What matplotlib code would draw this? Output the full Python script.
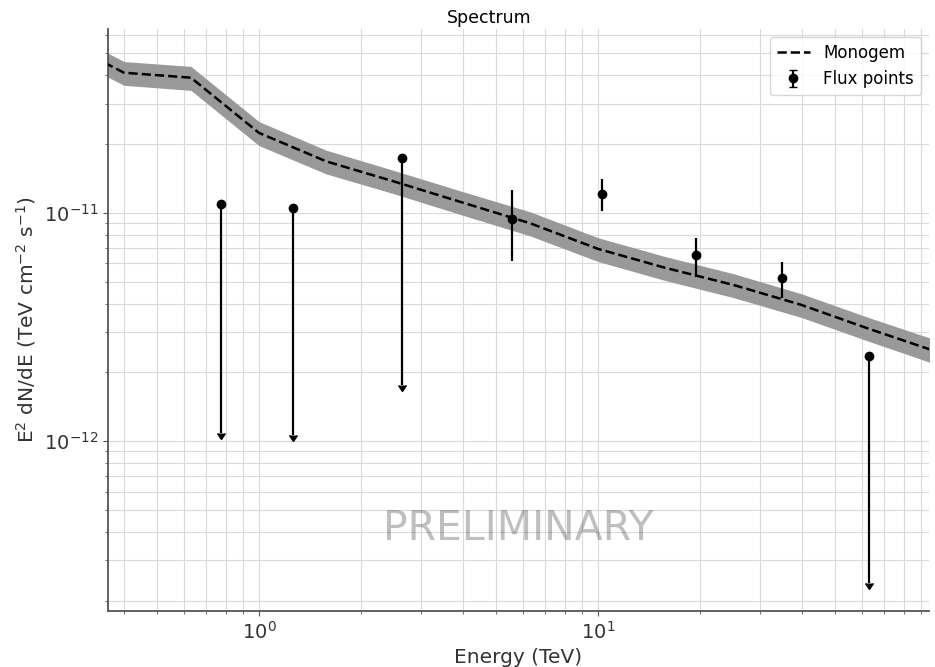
import numpy as np
import matplotlib
matplotlib.use("Agg")
import matplotlib.pyplot as plt

# Modell (Monogem) mit Unsicherheitsband
model_energy = [0.35, 0.40, 0.63, 1.0, 1.58, 2.51, 3.98, 6.31, 10.0, 15.8, 25.1, 39.8, 63.1, 100.0]
model_flux = [4.55e-11, 4.11e-11, 3.91e-11, 2.24e-11, 1.68e-11, 1.37e-11, 1.11e-11,
              9.0e-12, 6.95e-12, 5.74e-12, 4.83e-12, 3.95e-12, 3.10e-12, 2.46e-12]
model_lo = [4.00e-11, 3.62e-11, 3.44e-11, 1.97e-11, 1.48e-11, 1.21e-11, 9.77e-12,
            7.92e-12, 6.12e-12, 5.05e-12, 4.25e-12, 3.48e-12, 2.73e-12, 2.16e-12]
model_hi = [5.10e-11, 4.60e-11, 4.38e-11, 2.51e-11, 1.88e-11, 1.53e-11, 1.24e-11,
            1.01e-11, 7.78e-12, 6.43e-12, 5.41e-12, 4.42e-12, 3.47e-12, 2.76e-12]

# Flusspunkte (True = obere Grenze)
fp_energy = [0.771, 1.257, 2.636, 5.59, 10.25, 19.5, 35.0, 63.0]
fp_flux = [1.095e-11, 1.052e-11, 1.742e-11, 9.41e-12, 1.211e-11, 6.54e-12, 5.19e-12, 2.366e-12]
fp_low = [1.08e-12, 1.06e-12, 1.76e-12, 6.16e-12, 1.02e-11, 5.24e-12, 4.24e-12, 2.38e-13]
fp_high = [1.095e-11, 1.052e-11, 1.742e-11, 1.261e-11, 1.405e-11, 7.77e-12, 6.10e-12, 2.366e-12]
fp_ul = [True, True, True, False, False, False, False, True]

y_ticks = [1e-12, 1e-11]

fig = plt.figure(figsize=(9.35, 6.67), dpi=100)
ax = fig.add_axes([0.1155, 0.084, 0.878, 0.873])

ax.fill_between(model_energy, model_lo, model_hi, color="#999999", lw=0, zorder=2)
ax.plot(model_energy, model_flux, "k--", lw=1.8, label="Monogem", zorder=3)

flux = np.array(fp_flux)
yerr = [flux - np.array(fp_low), np.array(fp_high) - flux]
ax.errorbar(fp_energy, fp_flux, yerr=yerr, uplims=fp_ul, fmt="o", color="black",
            ms=6, elinewidth=1.6, capsize=0, label="Flux points", zorder=4)

ax.set_xscale("log")
ax.set_yscale("log")
ax.set_xlim(0.3586, 94.7)
ax.set_ylim(1.8e-13, 6.41e-11)
ax.set_yticks(y_ticks)

ax.grid(True, which="both", color="#dadada", lw=0.8, zorder=0)
ax.set_axisbelow(True)
for s in ["top", "right"]:
    ax.spines[s].set_visible(False)
for s in ["left", "bottom"]:
    ax.spines[s].set_color("#555555")
    ax.spines[s].set_linewidth(1.3)
ax.tick_params(which="both", colors="#555555", labelcolor="#333333", labelsize=14)

ax.set_xlabel("Energy (TeV)", fontsize=14.5, color="#333333")
ax.set_ylabel(r"E$^2$ dN/dE (TeV cm$^{-2}$ s$^{-1}$)", fontsize=14.5, color="#333333")
ax.set_title("Spectrum", fontsize=12.5, pad=4, x=0.464)

ax.text(0.5, 0.14, "PRELIMINARY", transform=ax.transAxes, ha="center", va="center",
        fontsize=29.5, color="black", alpha=0.25)

ax.legend(loc="upper right", fontsize=12)

fig.savefig("out.png", dpi=100)
